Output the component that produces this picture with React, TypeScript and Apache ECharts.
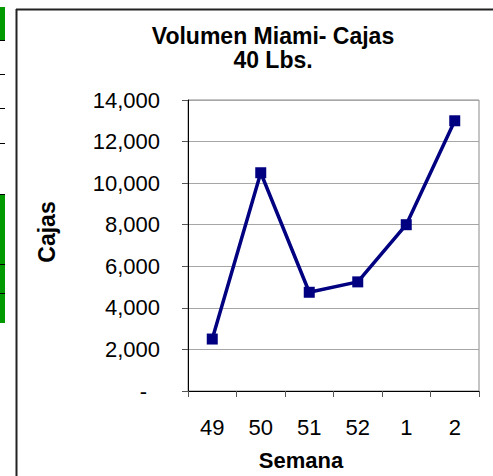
import React, { useEffect, useRef } from "react";
import * as echarts from "echarts";

const weeks = ["49", "50", "51", "52", "1", "2"];
const cajas = [2500, 10500, 4750, 5250, 8000, 13000];
const yTicks = { min: 0, max: 14000, interval: 2000 };
const titleLines = ["Volumen Miami- Cajas", "40 Lbs."];
const xName = "Semana";
const yName = "Cajas";

const FONT = "'Liberation Sans', Arial, Helvetica, sans-serif";

export default function App() {
  const ref = useRef<HTMLDivElement>(null);
  useEffect(() => {
    if (!ref.current) return;
    const chart = echarts.init(ref.current, null, { renderer: "svg" });
    const green = "#009a00";
    chart.setOption({
      animation: false,
      backgroundColor: "#ffffff",
      title: {
        text: titleLines.join("\n"),
        left: 268,
        top: 19,
        textAlign: "center",
        textStyle: {
          fontFamily: FONT,
          fontSize: 23,
          fontWeight: "bold",
          lineHeight: 24,
          color: "#000",
        },
      },
      grid: {
        left: 188,
        top: 100,
        right: 14,
        bottom: 85,
        show: true,
        borderColor: "#8a8a8a",
        borderWidth: 1,
        backgroundColor: "transparent",
      },
      xAxis: {
        type: "category",
        data: weeks,
        boundaryGap: true,
        axisLine: { lineStyle: { color: "#000", width: 1 } },
        axisTick: { show: true, length: 6, lineStyle: { color: "#555" }, alignWithLabel: false },
        axisLabel: { fontFamily: FONT, fontSize: 22, color: "#000", margin: 25 },
        splitLine: { show: false },
      },
      yAxis: {
        type: "value",
        min: yTicks.min,
        max: yTicks.max,
        interval: yTicks.interval,
        axisLine: { show: true, lineStyle: { color: "#000", width: 1 } },
        axisTick: { show: true, length: 6, lineStyle: { color: "#555" } },
        axisLabel: {
          fontFamily: FONT,
          fontSize: 22,
          color: "#000",
          margin: 28,
          formatter: (v: number) => (v === 0 ? "{d|-}" : v.toLocaleString("en-US")),
          rich: {
            d: { fontFamily: FONT, fontSize: 22, color: "#000", padding: [0, 13, 0, 0] },
          },
        },
        splitLine: { show: true, lineStyle: { color: "#a6a6a6", width: 1 } },
      },
      series: [
        {
          type: "line",
          data: cajas,
          symbol: "rect",
          symbolSize: 11,
          lineStyle: { color: "#000080", width: 3.5 },
          itemStyle: { color: "#000080" },
          z: 5,
        },
      ],
      graphic: [
        { type: "rect", shape: { x: 0, y: 7, width: 5, height: 33 }, style: { fill: green } },
        { type: "line", shape: { x1: 0, y1: 40.5, x2: 5, y2: 40.5 }, style: { stroke: "#000", lineWidth: 1 } },
        { type: "line", shape: { x1: 0, y1: 74.5, x2: 5, y2: 74.5 }, style: { stroke: "#000", lineWidth: 1 } },
        { type: "line", shape: { x1: 0, y1: 108.5, x2: 5, y2: 108.5 }, style: { stroke: "#000", lineWidth: 1 } },
        { type: "line", shape: { x1: 0, y1: 143.5, x2: 5, y2: 143.5 }, style: { stroke: "#000", lineWidth: 1 } },
        { type: "rect", shape: { x: 0, y: 194, width: 5, height: 129 }, style: { fill: green } },
        { type: "line", shape: { x1: 0, y1: 194.5, x2: 5, y2: 194.5 }, style: { stroke: "#000", lineWidth: 1 } },
        { type: "line", shape: { x1: 0, y1: 264.5, x2: 5, y2: 264.5 }, style: { stroke: "#000", lineWidth: 1 } },
        { type: "line", shape: { x1: 0, y1: 293.5, x2: 5, y2: 293.5 }, style: { stroke: "#000", lineWidth: 1 } },
        { type: "line", shape: { x1: 16.5, y1: 9, x2: 16.5, y2: 476 }, style: { stroke: "#222", lineWidth: 2 } },
        { type: "line", shape: { x1: 16, y1: 9.5, x2: 493, y2: 9.5 }, style: { stroke: "#222", lineWidth: 2 } },
        {
          type: "text",
          x: 301,
          y: 460,
          style: {
            text: xName,
            fontFamily: FONT,
            fontSize: 22,
            fontWeight: "bold",
            fill: "#000",
            textAlign: "center",
            textVerticalAlign: "middle",
          },
        },
        {
          type: "text",
          x: 47,
          y: 232,
          rotation: Math.PI / 2,
          style: {
            text: yName,
            fontFamily: FONT,
            fontSize: 23,
            fontWeight: "bold",
            fill: "#000",
            textAlign: "center",
            textVerticalAlign: "middle",
          },
        },
      ],
    });
    return () => chart.dispose();
  }, []);
  return (
    <div
      ref={ref}
      style={{ position: "fixed", left: 0, top: 0, width: 493, height: 476 }}
    />
  );
}
